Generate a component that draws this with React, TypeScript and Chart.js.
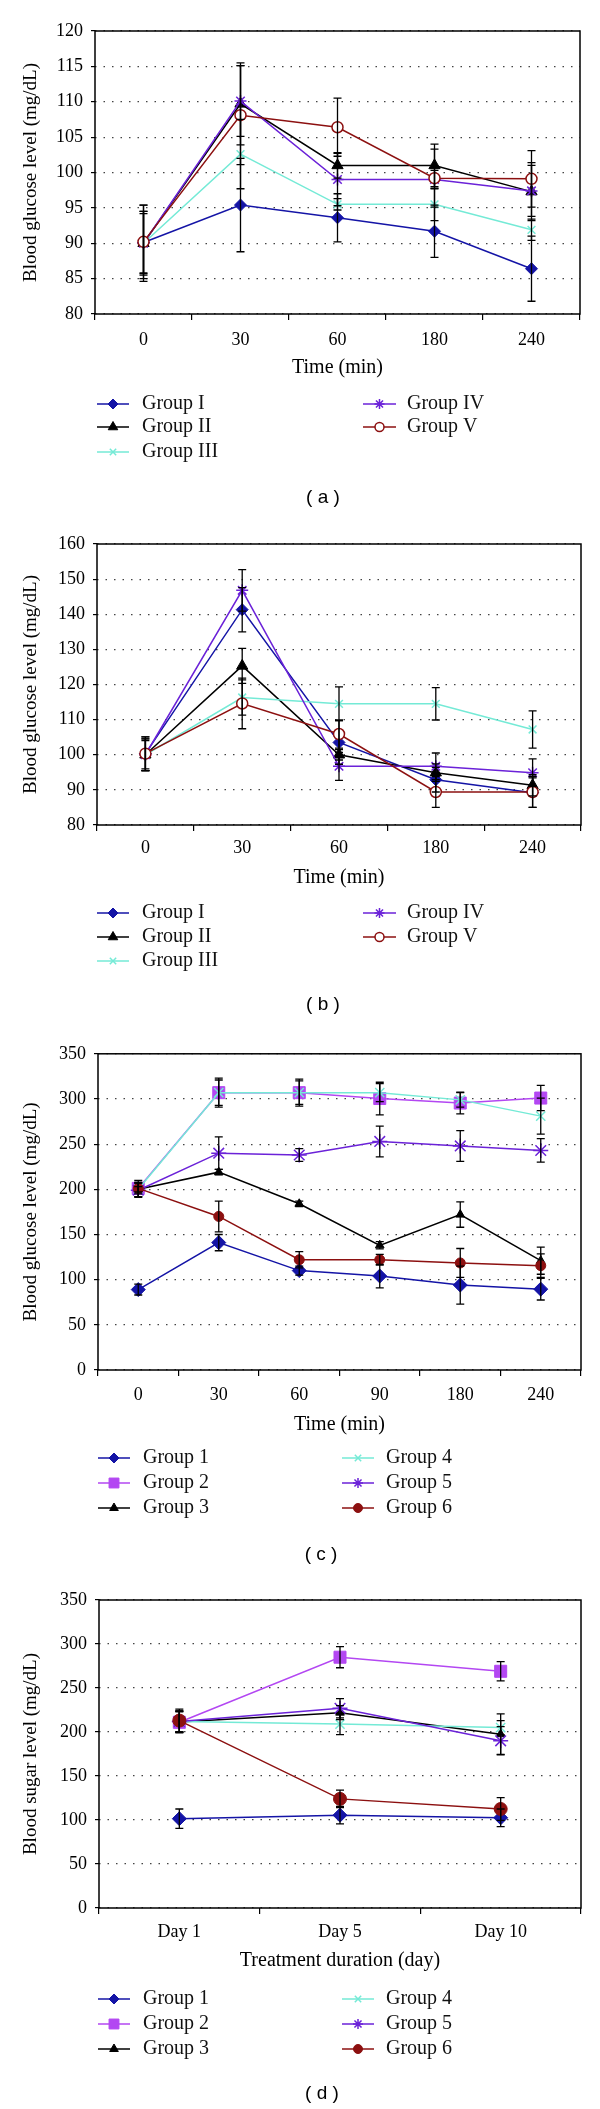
import React, { useEffect, useRef } from 'react';
import { Chart, registerables } from 'chart.js';
import { drawPoint } from 'chart.js/helpers';

Chart.register(...registerables);

// ---------------- DATA ----------------
const timeLabelsAB = ['0', '30', '60', '180', '240'];
const timeLabelsC = ['0', '30', '60', '90', '180', '240'];
const dayLabelsD = ['Day 1', 'Day 5', 'Day 10'];

const romanGroups = ['Group I', 'Group II', 'Group III', 'Group IV', 'Group V'];
const numberGroups = ['Group 1', 'Group 2', 'Group 3', 'Group 4', 'Group 5', 'Group 6'];

// Panel (a)
const aG1 = [90.1, 95.4, 93.6, 91.7, 86.4];
const aG1Err = [4.4, 6.6, 3.4, 3.7, 4.6];
const aG2 = [90.0, 109.7, 101.0, 101.0, 97.3];
const aG2Err = [5.4, 5.8, 1.8, 3.0, 4.1];
const aG3 = [90.0, 102.6, 95.5, 95.5, 91.9];
const aG3Err = [4.2, 4.9, 0.8, 2.3, 1.5];
const aG4 = [90.0, 110.1, 99.0, 99.0, 97.4];
const aG4Err = [4.5, 5.0, 3.7, 1.3, 3.6];
const aG5 = [90.2, 108.1, 106.4, 99.2, 99.1];
const aG5Err = [5.2, 7.0, 4.1, 4.1, 4.0];

// Panel (b)
const bG1 = [100.3, 141.3, 103.5, 92.9, 89.2];
const bG1Err = [4.8, 6.3, 6.2, 3.5, 4.2];
const bG2 = [100.0, 125.3, 100.0, 94.9, 91.3];
const bG2Err = [4.5, 5.0, 1.5, 2.5, 3.0];
const bG3 = [100.0, 116.3, 114.5, 114.5, 107.2];
const bG3Err = [4.0, 5.0, 4.8, 4.6, 5.3];
const bG4 = [100.0, 146.8, 96.7, 96.7, 94.9];
const bG4Err = [4.5, 5.9, 4.0, 3.8, 3.9];
const bG5 = [100.3, 114.6, 105.9, 89.4, 89.4];
const bG5Err = [4.8, 7.2, 4.0, 4.4, 4.4];

// Panel (c)
const cG1 = [89, 141, 110, 104, 94, 89.5];
const cG1Err = [6, 9, 5, 13, 21, 12];
const cG2 = [201, 307, 307, 300.5, 295.5, 301];
const cG2Err = [9, 16, 15, 18, 12, 14];
const cG3 = [200, 219, 184, 138, 172, 121];
const cG3Err = [3, 3, 3, 4, 14, 15];
const cG4 = [200, 307, 307, 307, 299, 281];
const cG4Err = [8, 14, 13, 10, 8, 20];
const cG5 = [199, 240, 238, 253, 248, 243];
const cG5Err = [8, 18, 7, 17, 17, 13];
const cG6 = [201, 170, 122, 122, 118.5, 115.5];
const cG6Err = [6, 17, 9, 6, 16, 13];

// Panel (d)
const dG1 = [101.5, 105.5, 102.5];
const dG1Err = [11, 10, 10];
const dG2 = [211, 285, 269];
const dG2Err = [12, 12, 11];
const dG3 = [211.5, 222, 197.5];
const dG3Err = [12, 8, 23];
const dG4 = [212, 209, 205];
const dG4Err = [12, 12, 8];
const dG5 = [212, 227, 190];
const dG5Err = [12, 11, 16];
const dG6 = [213, 124, 112.5];
const dG6Err = [13, 10, 13];

// ---------------- STYLES ----------------
const SERIF = '"Liberation Serif", "Times New Roman", serif';
const SANS = '"Liberation Sans", Arial, sans-serif';
const BLUE = '#1414A6';
const BLACK = '#000000';
const AQUA = '#74EAD6';
const PURPLE = '#6B22D8';
const DARKRED = '#8C1010';
const MAGENTA = '#B347F2';

type Series = {
  label: string;
  values: number[];
  errors: number[];
  color: string;
  fill: string;
  style: string;
  radius: number;
  legendRadius: number;
  pointBorder: number;
};

type Panel = {
  key: string;
  top: number;
  height: number;
  plotLeft: number;
  plotRight: number;
  plotTop: number;
  plotBottom: number;
  labels: string[];
  yMin: number;
  yMax: number;
  yStep: number;
  yTitle: string;
  xTitle: string;
  xLabelY: number;
  xTitleY: number;
  legendRows: number[];
  legendCols: { x0: number; x1: number; tx: number }[];
  captionX: number;
  captionY: number;
  caption: string;
  series: Series[];
};

const romanStyles = (vals: number[][], errs: number[][]): Series[] => [
  { label: romanGroups[0], values: vals[0], errors: errs[0], color: BLUE, fill: BLUE, style: 'rectRot', radius: 6, legendRadius: 5, pointBorder: 1 },
  { label: romanGroups[1], values: vals[1], errors: errs[1], color: BLACK, fill: BLACK, style: 'triangle', radius: 6.5, legendRadius: 5.5, pointBorder: 1 },
  { label: romanGroups[2], values: vals[2], errors: errs[2], color: AQUA, fill: AQUA, style: 'crossRot', radius: 5.5, legendRadius: 4.5, pointBorder: 1.5 },
  { label: romanGroups[3], values: vals[3], errors: errs[3], color: PURPLE, fill: PURPLE, style: 'star', radius: 6, legendRadius: 5, pointBorder: 1.5 },
  { label: romanGroups[4], values: vals[4], errors: errs[4], color: DARKRED, fill: '#ffffff', style: 'circle', radius: 5.5, legendRadius: 4.5, pointBorder: 1.5 },
];

const numberStyles = (vals: number[][], errs: number[][], circleR: number): Series[] => [
  { label: numberGroups[0], values: vals[0], errors: errs[0], color: BLUE, fill: BLUE, style: 'rectRot', radius: 7, legendRadius: 5, pointBorder: 1 },
  { label: numberGroups[1], values: vals[1], errors: errs[1], color: MAGENTA, fill: MAGENTA, style: 'rect', radius: 8.5, legendRadius: 7, pointBorder: 1 },
  { label: numberGroups[2], values: vals[2], errors: errs[2], color: BLACK, fill: BLACK, style: 'triangle', radius: 5, legendRadius: 5, pointBorder: 1 },
  { label: numberGroups[3], values: vals[3], errors: errs[3], color: AQUA, fill: AQUA, style: 'crossRot', radius: 6.5, legendRadius: 4.5, pointBorder: 1.5 },
  { label: numberGroups[4], values: vals[4], errors: errs[4], color: PURPLE, fill: PURPLE, style: 'star', radius: 7.5, legendRadius: 5, pointBorder: 1.5 },
  { label: numberGroups[5], values: vals[5], errors: errs[5], color: DARKRED, fill: DARKRED, style: 'circle', radius: circleR, legendRadius: 4.5, pointBorder: 1 },
];

const colsRoman = [{ x0: 97, x1: 129, tx: 142 }, { x0: 363, x1: 396, tx: 407 }];
const colsNumber = [{ x0: 98, x1: 130, tx: 143 }, { x0: 342, x1: 374, tx: 386 }];

const panels: Panel[] = [
  {
    key: 'a', top: 0, height: 520, plotLeft: 95, plotRight: 580, plotTop: 31, plotBottom: 314,
    labels: timeLabelsAB, yMin: 80, yMax: 120, yStep: 5,
    yTitle: 'Blood glucose level (mg/dL)', xTitle: 'Time (min)',
    xLabelY: 340, xTitleY: 368, legendRows: [404, 427, 452], legendCols: colsRoman,
    captionX: 323, captionY: 498, caption: '( a )',
    series: romanStyles([aG1, aG2, aG3, aG4, aG5], [aG1Err, aG2Err, aG3Err, aG4Err, aG5Err]),
  },
  {
    key: 'b', top: 520, height: 515, plotLeft: 97, plotRight: 581, plotTop: 24, plotBottom: 305,
    labels: timeLabelsAB, yMin: 80, yMax: 160, yStep: 10,
    yTitle: 'Blood glucose level (mg/dL)', xTitle: 'Time (min)',
    xLabelY: 328, xTitleY: 358, legendRows: [393, 417, 441], legendCols: colsRoman,
    captionX: 323, captionY: 485, caption: '( b )',
    series: romanStyles([bG1, bG2, bG3, bG4, bG5], [bG1Err, bG2Err, bG3Err, bG4Err, bG5Err]),
  },
  {
    key: 'c', top: 1035, height: 540, plotLeft: 98, plotRight: 581, plotTop: 17, plotBottom: 335,
    labels: timeLabelsC, yMin: 0, yMax: 350, yStep: 50,
    yTitle: 'Blood glucose level (mg/dL)', xTitle: 'Time (min)',
    xLabelY: 360, xTitleY: 390, legendRows: [423, 448, 473], legendCols: colsNumber,
    captionX: 321, captionY: 520, caption: '( c )',
    series: numberStyles([cG1, cG2, cG3, cG4, cG5, cG6], [cG1Err, cG2Err, cG3Err, cG4Err, cG5Err, cG6Err], 5),
  },
  {
    key: 'd', top: 1575, height: 534, plotLeft: 99, plotRight: 581, plotTop: 25, plotBottom: 333,
    labels: dayLabelsD, yMin: 0, yMax: 350, yStep: 50,
    yTitle: 'Blood sugar level (mg/dL)', xTitle: 'Treatment duration (day)',
    xLabelY: 357, xTitleY: 386, legendRows: [424, 449, 474], legendCols: colsNumber,
    captionX: 322, captionY: 519, caption: '( d )',
    series: numberStyles([dG1, dG2, dG3, dG4, dG5, dG6], [dG1Err, dG2Err, dG3Err, dG4Err, dG5Err, dG6Err], 6.5),
  },
];

const TICK_SIZE = 18;
const XTITLE_SIZE = 20;
const YTITLE_SIZE = 19;
const LEGEND_SIZE = 20;

function PanelChart({ p }: { p: Panel }) {
  const ref = useRef<HTMLCanvasElement | null>(null);

  useEffect(() => {
    const canvas = ref.current;
    if (!canvas) return;

    const xTickLen = 6;
    const xPad = p.xLabelY - p.plotBottom - xTickLen - (TICK_SIZE * 1.2) / 2;
    const xTitlePadBottom = p.height - p.xTitleY - (XTITLE_SIZE * 1.2) / 2;
    const yTitlePadTop = 31 - (YTITLE_SIZE * 1.2) / 2;
    const n = p.series.length;

    const errorBars = {
      id: 'errorBars',
      afterDatasetsDraw(chart: any) {
        const ctx = chart.ctx;
        const y = chart.scales.y;
        ctx.save();
        ctx.strokeStyle = '#000';
        ctx.lineWidth = 1.3;
        p.series.forEach((s, i) => {
          const meta = chart.getDatasetMeta(i);
          meta.data.forEach((pt: any, j: number) => {
            const e = s.errors[j];
            const yTop = y.getPixelForValue(s.values[j] + e);
            const yBot = y.getPixelForValue(s.values[j] - e);
            const x = pt.x;
            ctx.beginPath();
            ctx.moveTo(x, yTop);
            ctx.lineTo(x, yBot);
            ctx.moveTo(x - 4, yTop);
            ctx.lineTo(x + 4, yTop);
            ctx.moveTo(x - 4, yBot);
            ctx.lineTo(x + 4, yBot);
            ctx.stroke();
          });
        });
        ctx.restore();
      },
    };

    const frameAndLegend = {
      id: 'frameAndLegend',
      afterDraw(chart: any) {
        const ctx = chart.ctx;
        const a = chart.chartArea;
        ctx.save();
        ctx.strokeStyle = '#000';
        ctx.lineWidth = 1.5;
        ctx.strokeRect(a.left, a.top, a.right - a.left, a.bottom - a.top);

        // legend
        p.series.forEach((s, i) => {
          const col = i < 3 ? 0 : 1;
          const row = i < 3 ? i : i - 3;
          const c = p.legendCols[col];
          const yy = p.legendRows[row];
          ctx.strokeStyle = s.color;
          ctx.lineWidth = 1.5;
          ctx.beginPath();
          ctx.moveTo(c.x0, yy);
          ctx.lineTo(c.x1, yy);
          ctx.stroke();
          ctx.fillStyle = s.fill;
          ctx.strokeStyle = s.color;
          ctx.lineWidth = s.pointBorder;
          drawPoint(ctx, { pointStyle: s.style as any, rotation: 0, radius: s.legendRadius, borderWidth: s.pointBorder }, (c.x0 + c.x1) / 2, yy);
          ctx.fillStyle = '#111';
          ctx.font = `${LEGEND_SIZE}px ${SERIF}`;
          ctx.textAlign = 'left';
          ctx.textBaseline = 'middle';
          ctx.fillText(s.label, c.tx, yy);
        });

        // caption
        ctx.fillStyle = '#000';
        ctx.font = `19px ${SANS}`;
        ctx.textAlign = 'center';
        ctx.textBaseline = 'middle';
        ctx.fillText(p.caption, p.captionX, p.captionY);
        ctx.restore();
      },
    };

    const chart = new Chart(canvas, {
      type: 'line',
      data: {
        labels: p.labels,
        datasets: p.series.map((s, i) => ({
          label: s.label,
          data: s.values,
          order: n - i,
          borderColor: s.color,
          backgroundColor: s.fill,
          borderWidth: 1.5,
          pointStyle: s.style as any,
          pointRadius: s.radius,
          pointHoverRadius: s.radius,
          pointBackgroundColor: s.fill,
          pointBorderColor: s.color,
          pointBorderWidth: s.pointBorder,
          tension: 0,
          fill: false,
        })),
      },
      options: {
        responsive: false,
        animation: false,
        devicePixelRatio: 1,
        events: [],
        layout: { padding: { left: 0, right: 600 - p.plotRight, top: p.plotTop, bottom: 0 } },
        plugins: { legend: { display: false }, tooltip: { enabled: false } },
        scales: {
          x: {
            type: 'category',
            offset: true,
            grid: { display: true, offset: true, drawOnChartArea: false, drawTicks: true, tickLength: xTickLen, color: '#000', lineWidth: 1.2 },
            border: { display: false },
            ticks: { color: '#000', font: { family: SERIF, size: TICK_SIZE }, padding: xPad, maxRotation: 0, autoSkip: false },
            title: { display: true, text: p.xTitle, color: '#000', font: { family: SERIF, size: XTITLE_SIZE }, padding: { top: 0, bottom: xTitlePadBottom } },
            afterFit: (s: any) => { s.height = p.height - p.plotBottom; },
          },
          y: {
            type: 'linear',
            min: p.yMin,
            max: p.yMax,
            ticks: { stepSize: p.yStep, color: '#000', font: { family: SERIF, size: TICK_SIZE }, padding: 8 },
            grid: { color: '#444', lineWidth: 1.2, drawTicks: true, tickLength: 4, tickColor: '#000', tickWidth: 1.2 },
            border: { display: false, dash: [1.5, 7] },
            title: { display: true, text: p.yTitle, color: '#000', font: { family: SERIF, size: YTITLE_SIZE }, padding: { top: yTitlePadTop, bottom: 0 } },
            afterFit: (s: any) => { s.width = p.plotLeft; },
          },
        },
      } as any,
      plugins: [errorBars, frameAndLegend],
    });

    return () => chart.destroy();
  }, [p]);

  return (
    <canvas
      ref={ref}
      width={600}
      height={p.height}
      style={{ position: 'absolute', left: 0, top: p.top, width: 600, height: p.height, display: 'block' }}
    />
  );
}

export default function App() {
  useEffect(() => {
    document.body.style.margin = '0';
  }, []);
  return (
    <div style={{ position: 'absolute', left: 0, top: 0, width: 600, height: 2109, background: '#ffffff' }}>
      {panels.map((p) => (
        <PanelChart key={p.key} p={p} />
      ))}
    </div>
  );
}
